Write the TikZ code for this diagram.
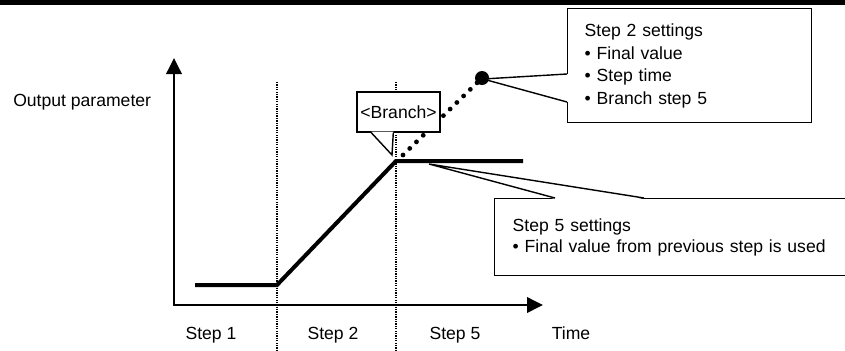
\documentclass[tikz,border=0pt]{standalone}
\usepackage{fontspec}
\setmainfont{Liberation Sans}
\usetikzlibrary{arrows.meta, positioning, calc}

\begin{document}
\begin{tikzpicture}[
        x=0.025cm, y=-0.025cm,
        font=\fontsize{12.5}{16}\selectfont,
        txt/.style={anchor=base, inner sep=0pt},
        box/.style={rectangle, draw, fill=white, line width=1pt, inner sep=0pt},
        axis/.style={line width=2.1pt, {Triangle[length=0.4cm, width=0.38cm]}-{Triangle[length=0.4cm, width=0.38cm]}},
        curve/.style={line width=2.85pt},
        divider/.style={line width=1.3pt, dash pattern=on 0.9pt off 0.8pt},
        dots/.style={line width=0.12cm, line cap=round, dash pattern=on 0pt off 0.235cm},
        pointer/.style={line width=1pt}
    ]

    \useasboundingbox (0,0) rectangle (845,350);
    \fill (0,0) rectangle (845,5);

    % step dividers
    \coordinate (div1top) at (277,82);
    \coordinate (div1bot) at (277,350);
    \coordinate (div2top) at (396,82);
    \coordinate (div2bot) at (396,350);
    \draw[divider] (div1top) -- (div1bot);
    \draw[divider] (div2top) -- (div2bot);

    % axes
    \coordinate (origin) at (174,305);
    \coordinate (xend) at (543,305);
    \coordinate (yend) at (174,58);
    \draw[axis] (yend) -- (origin) -- (xend);

    \node[txt, anchor=base west] (ylabel) at (13,106) {Output parameter};
    \node[txt] (step1) at (211,339) {Step 1};
    \node[txt] (step2) at (333,339) {Step 2};
    \node[txt] (step5) at (455,339) {Step 5};
    \node[txt] (time) at (571,339) {Time};

    % step 5 callout
    \node[box, anchor=north west, minimum width=9.4cm, minimum height=1.925cm,
          text width=8.5cm, inner xsep=0.45cm, align=left,
          font=\fontsize{12.5}{15}\selectfont] (sfive) at (494,198)
        {Step 5 settings\\\textbullet{} Final value from previous step is used};
    \coordinate (fivetip) at (429,164);
    \fill[white] ($(sfive.north west)+(61,1)$) -- (fivetip) -- ($(sfive.north west)+(150,1)$) -- cycle;
    \draw[pointer] ($(sfive.north west)+(61,0)$) -- (fivetip) -- ($(sfive.north west)+(150,0)$);

    % output curve
    \coordinate (p1) at (195,285);
    \coordinate (p2) at (277,285);
    \coordinate (p3) at (396,161);
    \coordinate (p4) at (523,161);
    \draw[curve] (p1) -- (p2) -- (p3) -- (p4);

    % branch path
    \node[circle, fill, inner sep=0pt, minimum size=0.35cm] (target) at (482,78) {};
    \coordinate (dotstart) at (403,155);
    \draw[dots] (dotstart) -- (target.center);

    % branch callout
    \node[box, minimum width=2.075cm, minimum height=1cm] (branch) at (398.5,112) {<Branch>};
    \coordinate (branchtip) at (392,155);
    \fill[white] ($(branch.south west)+(15,-1)$) -- (branchtip) -- ($(branch.south west)+(37,-1)$) -- cycle;
    \draw[pointer] ($(branch.south west)+(15,0)$) -- (branchtip) -- ($(branch.south west)+(37,0)$);

    % step 2 callout
    \node[box, anchor=north west, minimum width=6.1cm, minimum height=2.85cm,
          text width=5.25cm, inner xsep=0.425cm, align=left] (stwo) at (567,8)
        {Step 2 settings\\\textbullet{} Final value\\\textbullet{} Step time\\\textbullet{} Branch step 5};
    \coordinate (twotip) at (483,79);
    \fill[white] ($(stwo.north west)+(1,66)$) -- (twotip) -- ($(stwo.north west)+(1,94)$) -- cycle;
    \draw[pointer] ($(stwo.north west)+(0,66)$) -- (twotip) -- ($(stwo.north west)+(0,94)$);

\end{tikzpicture}
\end{document}
